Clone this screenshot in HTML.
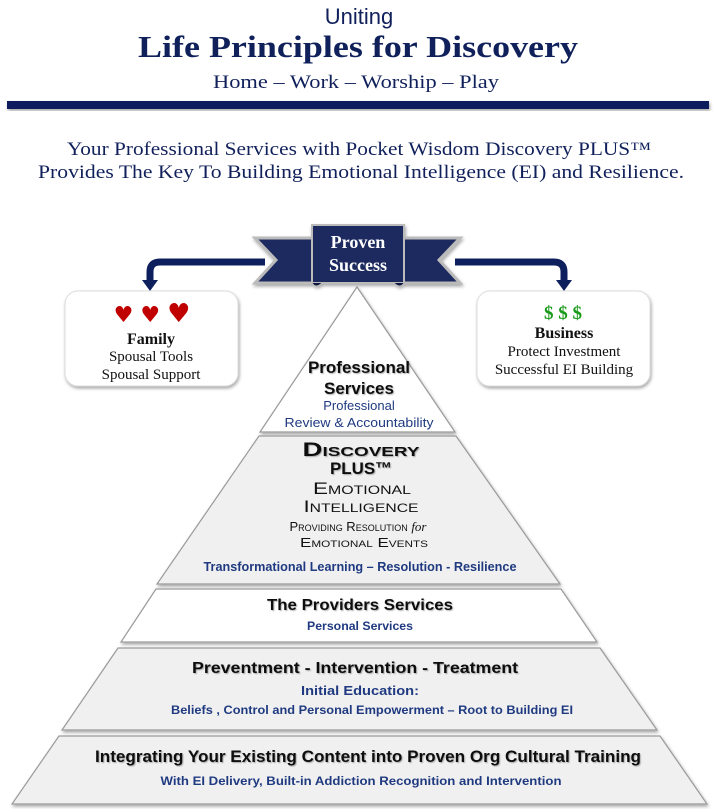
<!DOCTYPE html>
<html><head><meta charset="utf-8"><style>
html,body{margin:0;padding:0;background:#fff;}
svg{display:block}
.s{font-family:"Liberation Serif",serif}
.a{font-family:"Liberation Sans",sans-serif}
</style></head><body>
<svg width="718" height="809" viewBox="0 0 718 809" xmlns="http://www.w3.org/2000/svg">
<defs>
<filter id="sh" x="-10%" y="-10%" width="130%" height="130%"><feDropShadow dx="1" dy="2" stdDeviation="1.5" flood-color="#000" flood-opacity="0.35"/></filter>
<filter id="ts"><feDropShadow dx="1" dy="1" stdDeviation="0.6" flood-color="#000" flood-opacity="0.3"/></filter>
</defs>
<!-- header -->
<text x="359" y="24" text-anchor="middle" class="a" font-size="22" fill="#10205a">Uniting</text>
<text x="358" y="57" text-anchor="middle" class="s" font-size="31" font-weight="bold" fill="#10205a" textLength="440" lengthAdjust="spacingAndGlyphs">Life Principles for Discovery</text>
<text x="356" y="88" text-anchor="middle" class="s" font-size="19" fill="#10205a" textLength="286" lengthAdjust="spacingAndGlyphs">Home – Work  – Worship – Play</text>
<rect x="7" y="101" width="702" height="8" fill="#0d1f5c" filter="url(#sh)"/>
<text x="359" y="155" text-anchor="middle" class="s" font-size="19" fill="#10205a" textLength="584" lengthAdjust="spacingAndGlyphs">Your Professional Services with Pocket Wisdom Discovery PLUS™</text>
<text x="361" y="178" text-anchor="middle" class="s" font-size="19" fill="#10205a" textLength="646" lengthAdjust="spacingAndGlyphs">Provides The Key To Building Emotional Intelligence (EI) and Resilience.</text>

<!-- arrows -->
<path d="M265,262 H160 Q150,262 150,272 V282" fill="none" stroke="#0d1f5c" stroke-width="7"/>
<polygon points="142,280 158,280 150,291" fill="#0d1f5c"/>
<path d="M455,262 H554 Q564,262 564,272 V282" fill="none" stroke="#0d1f5c" stroke-width="7"/>
<polygon points="556,280 572,280 564,291" fill="#0d1f5c"/>

<!-- side boxes -->
<rect x="65" y="291" width="173" height="95" rx="13" fill="#fff" stroke="#ddd" filter="url(#sh)"/>
<text x="152" y="322" text-anchor="middle" font-family="'DejaVu Sans',sans-serif" font-size="22" fill="#c00000">♥ ♥ <tspan font-size="26">♥</tspan></text>
<text x="151" y="344" text-anchor="middle" class="s" font-size="16" font-weight="bold" fill="#111">Family</text>
<text x="151" y="361" text-anchor="middle" class="s" font-size="15" fill="#111">Spousal Tools</text>
<text x="151" y="379" text-anchor="middle" class="s" font-size="15" fill="#111">Spousal Support</text>

<rect x="477" y="291" width="173" height="95" rx="13" fill="#fff" stroke="#ddd" filter="url(#sh)"/>
<text x="563" y="319" text-anchor="middle" class="s" font-size="19" font-weight="bold" fill="#1a9a1a">$ $ $</text>
<text x="564" y="338" text-anchor="middle" class="s" font-size="16" font-weight="bold" fill="#111">Business</text>
<text x="564" y="356" text-anchor="middle" class="s" font-size="15" fill="#111">Protect Investment</text>
<text x="564" y="374" text-anchor="middle" class="s" font-size="15" fill="#111">Successful EI Building</text>

<!-- pyramid -->
<g stroke="#9a9a9a" stroke-width="1.2" filter="url(#sh)">
<polygon points="357,287 260,432 455,432" fill="#fff"/>
<polygon points="259,436 456,436 560,584 157,584" fill="#f0f0f0"/>
<polygon points="156,589 561,589 597,642 121,642" fill="#fff"/>
<polygon points="118,648 600,648 657,730 62,730" fill="#f0f0f0"/>
<polygon points="59,736 660,736 707,804 12,804" fill="#f0f0f0"/>
</g>

<!-- banner -->
<g filter="url(#sh)">
<polygon points="255,238 320,238 320,283 255,283 276,260" fill="#1b2a5e" stroke="#bbb" stroke-width="3"/>
<polygon points="460,238 396,238 396,283 460,283 439,260" fill="#1b2a5e" stroke="#bbb" stroke-width="3"/>
<rect x="312" y="225" width="92" height="58" fill="#1b2a5e" stroke="#bbb" stroke-width="2"/>
<path d="M312,283 Q316,289 322,283 M404,283 Q400,289 394,283" fill="#0d1840" stroke="#bbb"/>
</g>
<text x="358" y="248" text-anchor="middle" class="s" font-size="18" font-weight="bold" fill="#fff">Proven</text>
<text x="358" y="271" text-anchor="middle" class="s" font-size="18" font-weight="bold" fill="#fff">Success</text>

<!-- layer texts -->
<g class="a" text-anchor="middle">
<text x="359" y="373" font-size="17" font-weight="bold" fill="#111" filter="url(#ts)">Professional</text>
<text x="359" y="394" font-size="17" font-weight="bold" fill="#111" filter="url(#ts)">Services</text>
<text x="359" y="410" font-size="13" fill="#1f3a80">Professional</text>
<text x="359" y="427" font-size="13" fill="#1f3a80" textLength="149" lengthAdjust="spacingAndGlyphs">Review &amp; Accountability</text>

<text x="361" y="456" font-size="19" font-weight="bold" fill="#111" style="font-variant:small-caps" textLength="117" lengthAdjust="spacingAndGlyphs" filter="url(#ts)">Discovery</text>
<text x="361" y="474" font-size="17" font-weight="bold" fill="#111" textLength="62" lengthAdjust="spacingAndGlyphs" filter="url(#ts)">PLUS™</text>
<text x="362" y="494" font-size="17" fill="#111" style="font-variant:small-caps" textLength="98" lengthAdjust="spacingAndGlyphs">Emotional</text>
<text x="361" y="512" font-size="17" fill="#111" style="font-variant:small-caps" textLength="115" lengthAdjust="spacingAndGlyphs">Intelligence</text>
<text x="358" y="531" font-size="13" fill="#111" style="font-variant:small-caps">Providing Resolution <tspan font-style="italic" font-family="Liberation Serif,serif" style="font-variant:normal">for</tspan></text>
<text x="364" y="547" font-size="13" fill="#111" style="font-variant:small-caps" textLength="128" lengthAdjust="spacingAndGlyphs">Emotional Events</text>
<text x="360" y="571" font-size="13" font-weight="bold" fill="#1f3a80" textLength="313" lengthAdjust="spacingAndGlyphs">Transformational Learning – Resolution - Resilience</text>

<text x="360" y="610" font-size="16" font-weight="bold" fill="#111" textLength="186" lengthAdjust="spacingAndGlyphs" filter="url(#ts)">The Providers Services</text>
<text x="360" y="630" font-size="12" font-weight="bold" fill="#1f3a80" textLength="106" lengthAdjust="spacingAndGlyphs">Personal Services</text>

<text x="355" y="673" font-size="16" font-weight="bold" fill="#111" textLength="326" lengthAdjust="spacingAndGlyphs" filter="url(#ts)">Preventment - Intervention - Treatment</text>
<text x="360" y="695" font-size="13" font-weight="bold" fill="#1f3a80" textLength="118" lengthAdjust="spacingAndGlyphs">Initial Education:</text>
<text x="372" y="714" font-size="12" fill="#1f3a80" font-weight="bold" textLength="402" lengthAdjust="spacingAndGlyphs">Beliefs , Control and Personal Empowerment – Root to Building EI</text>

<text x="368" y="762" font-size="17" font-weight="bold" fill="#111" textLength="546" lengthAdjust="spacingAndGlyphs" filter="url(#ts)">Integrating  Your Existing Content into Proven Org Cultural Training</text>
<text x="361" y="785" font-size="12" font-weight="bold" fill="#1f3a80" textLength="401" lengthAdjust="spacingAndGlyphs">With EI Delivery,  Built-in Addiction Recognition and Intervention</text>
</g>
</svg>
</body></html>
